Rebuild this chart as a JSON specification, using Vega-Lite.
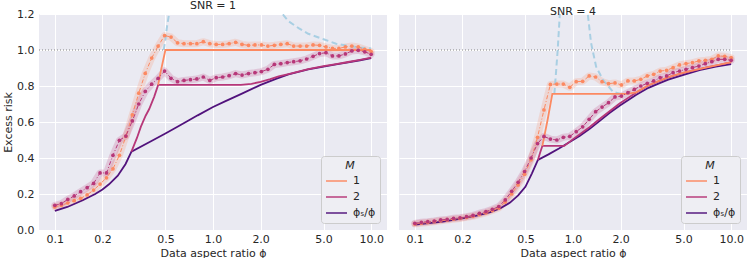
{
"$schema": "https://vega.github.io/schema/vega-lite/v6.json",
"padding": {"left": 2, "top": 0, "right": 0, "bottom": 0},
"config": {
 "font": "DejaVu Sans",
 "view": {"fill": "#eaeaf2", "stroke": null},
 "axis": {"domain": false, "ticks": false, "grid": true, "gridColor": "#ffffff", "gridWidth": 1, "labelFont": "DejaVu Sans", "labelFontSize": 11, "labelColor": "#262626", "titleFont": "DejaVu Sans", "titleFontSize": 11, "titleFontWeight": "normal", "titleColor": "#262626", "labelPadding": 3, "titlePadding": 3},
 "title": {"font": "DejaVu Sans", "fontSize": 11, "fontWeight": "normal", "color": "#262626", "offset": -3},
 "legend": {"orient": "bottom-right", "offset": 7, "fillColor": "#eeeef3", "strokeColor": "#cccccc", "cornerRadius": 3, "padding": 4, "titleFont": "DejaVu Sans", "titleFontStyle": "italic", "titleFontWeight": "normal", "titleFontSize": 11, "titleAnchor": "middle", "titlePadding": 4, "titleColor": "#262626", "labelFont": "DejaVu Sans", "labelFontSize": 11, "labelColor": "#262626", "labelOffset": 5, "symbolType": "stroke", "symbolSize": 441, "symbolStrokeWidth": 1.8, "symbolOpacity": 0.8, "clipHeight": 12, "rowPadding": 4}
},
"datasets": {
 "ref": [{"phi": 0.0794, "v": 1.0}, {"phi": 10, "v": 1.0}],
 "theory": [
  {"snr":1,"M":"ϕₛ/ϕ","phi":0.1,"v":0.106},{"snr":1,"M":"ϕₛ/ϕ","phi":0.12,"v":0.128},{"snr":1,"M":"ϕₛ/ϕ","phi":0.15,"v":0.165},{"snr":1,"M":"ϕₛ/ϕ","phi":0.18,"v":0.2},{"snr":1,"M":"ϕₛ/ϕ","phi":0.2,"v":0.225},{"snr":1,"M":"ϕₛ/ϕ","phi":0.22,"v":0.254},{"snr":1,"M":"ϕₛ/ϕ","phi":0.25,"v":0.302},{"snr":1,"M":"ϕₛ/ϕ","phi":0.28,"v":0.367},{"snr":1,"M":"ϕₛ/ϕ","phi":0.305,"v":0.435},{"snr":1,"M":"ϕₛ/ϕ","phi":0.4,"v":0.49},{"snr":1,"M":"ϕₛ/ϕ","phi":0.5,"v":0.536},{"snr":1,"M":"ϕₛ/ϕ","phi":0.6,"v":0.575},{"snr":1,"M":"ϕₛ/ϕ","phi":0.7,"v":0.608},{"snr":1,"M":"ϕₛ/ϕ","phi":0.8,"v":0.637},{"snr":1,"M":"ϕₛ/ϕ","phi":1.0,"v":0.683},{"snr":1,"M":"ϕₛ/ϕ","phi":1.2,"v":0.716},{"snr":1,"M":"ϕₛ/ϕ","phi":1.5,"v":0.755},{"snr":1,"M":"ϕₛ/ϕ","phi":2.0,"v":0.806},{"snr":1,"M":"ϕₛ/ϕ","phi":2.5,"v":0.84},{"snr":1,"M":"ϕₛ/ϕ","phi":3.0,"v":0.864},{"snr":1,"M":"ϕₛ/ϕ","phi":4.0,"v":0.892},{"snr":1,"M":"ϕₛ/ϕ","phi":5.0,"v":0.908},{"snr":1,"M":"ϕₛ/ϕ","phi":6.0,"v":0.92},{"snr":1,"M":"ϕₛ/ϕ","phi":7.0,"v":0.93},{"snr":1,"M":"ϕₛ/ϕ","phi":8.5,"v":0.943},{"snr":1,"M":"ϕₛ/ϕ","phi":10,"v":0.955},
  {"snr":1,"M":"2","phi":0.305,"v":0.435},{"snr":1,"M":"2","phi":0.33,"v":0.51},{"snr":1,"M":"2","phi":0.35,"v":0.574},{"snr":1,"M":"2","phi":0.375,"v":0.635},{"snr":1,"M":"2","phi":0.395,"v":0.672},{"snr":1,"M":"2","phi":0.425,"v":0.741},{"snr":1,"M":"2","phi":0.45,"v":0.806},{"snr":1,"M":"2","phi":1.5,"v":0.806},{"snr":1,"M":"2","phi":1.75,"v":0.812},{"snr":1,"M":"2","phi":2.0,"v":0.823},{"snr":1,"M":"2","phi":2.3,"v":0.838},{"snr":1,"M":"2","phi":2.6,"v":0.853},{"snr":1,"M":"2","phi":3.0,"v":0.866},{"snr":1,"M":"2","phi":4.0,"v":0.894},{"snr":1,"M":"2","phi":5.0,"v":0.91},{"snr":1,"M":"2","phi":6.0,"v":0.922},{"snr":1,"M":"2","phi":7.0,"v":0.932},{"snr":1,"M":"2","phi":8.5,"v":0.945},{"snr":1,"M":"2","phi":10,"v":0.957},
  {"snr":1,"M":"1","phi":0.45,"v":0.806},{"snr":1,"M":"1","phi":0.467,"v":0.88},{"snr":1,"M":"1","phi":0.5,"v":1.0},{"snr":1,"M":"1","phi":10,"v":1.0},
  {"snr":4,"M":"ϕₛ/ϕ","phi":0.1,"v":0.03},{"snr":4,"M":"ϕₛ/ϕ","phi":0.15,"v":0.047},{"snr":4,"M":"ϕₛ/ϕ","phi":0.2,"v":0.064},{"snr":4,"M":"ϕₛ/ϕ","phi":0.25,"v":0.081},{"snr":4,"M":"ϕₛ/ϕ","phi":0.3,"v":0.099},{"snr":4,"M":"ϕₛ/ϕ","phi":0.35,"v":0.122},{"snr":4,"M":"ϕₛ/ϕ","phi":0.4,"v":0.152},{"snr":4,"M":"ϕₛ/ϕ","phi":0.45,"v":0.192},{"snr":4,"M":"ϕₛ/ϕ","phi":0.5,"v":0.24},{"snr":4,"M":"ϕₛ/ϕ","phi":0.55,"v":0.315},{"snr":4,"M":"ϕₛ/ϕ","phi":0.6,"v":0.389},{"snr":4,"M":"ϕₛ/ϕ","phi":0.7,"v":0.42},{"snr":4,"M":"ϕₛ/ϕ","phi":0.82,"v":0.454},{"snr":4,"M":"ϕₛ/ϕ","phi":1.0,"v":0.5},{"snr":4,"M":"ϕₛ/ϕ","phi":1.1,"v":0.522},{"snr":4,"M":"ϕₛ/ϕ","phi":1.275,"v":0.562},{"snr":4,"M":"ϕₛ/ϕ","phi":1.47,"v":0.605},{"snr":4,"M":"ϕₛ/ϕ","phi":1.7,"v":0.65},{"snr":4,"M":"ϕₛ/ϕ","phi":1.97,"v":0.69},{"snr":4,"M":"ϕₛ/ϕ","phi":2.5,"v":0.75},{"snr":4,"M":"ϕₛ/ϕ","phi":3.0,"v":0.79},{"snr":4,"M":"ϕₛ/ϕ","phi":3.5,"v":0.815},{"snr":4,"M":"ϕₛ/ϕ","phi":4.0,"v":0.835},{"snr":4,"M":"ϕₛ/ϕ","phi":5.0,"v":0.862},{"snr":4,"M":"ϕₛ/ϕ","phi":6.3,"v":0.888},{"snr":4,"M":"ϕₛ/ϕ","phi":8.0,"v":0.908},{"snr":4,"M":"ϕₛ/ϕ","phi":10,"v":0.922},
  {"snr":4,"M":"2","phi":0.6,"v":0.389},{"snr":4,"M":"2","phi":0.62,"v":0.43},{"snr":4,"M":"2","phi":0.64,"v":0.467},{"snr":4,"M":"2","phi":0.88,"v":0.467},{"snr":4,"M":"2","phi":1.0,"v":0.505},{"snr":4,"M":"2","phi":1.275,"v":0.572},{"snr":4,"M":"2","phi":1.5,"v":0.622},{"snr":4,"M":"2","phi":1.97,"v":0.703},{"snr":4,"M":"2","phi":2.5,"v":0.763},{"snr":4,"M":"2","phi":3.0,"v":0.803},{"snr":4,"M":"2","phi":4.0,"v":0.848},{"snr":4,"M":"2","phi":5.0,"v":0.873},{"snr":4,"M":"2","phi":7.0,"v":0.903},{"snr":4,"M":"2","phi":10,"v":0.931},
  {"snr":4,"M":"1","phi":0.64,"v":0.467},{"snr":4,"M":"1","phi":0.69,"v":0.61},{"snr":4,"M":"1","phi":0.74,"v":0.756},{"snr":4,"M":"1","phi":2.2,"v":0.756},{"snr":4,"M":"1","phi":2.5,"v":0.765},{"snr":4,"M":"1","phi":3.0,"v":0.804},{"snr":4,"M":"1","phi":4.0,"v":0.849},{"snr":4,"M":"1","phi":5.0,"v":0.874},{"snr":4,"M":"1","phi":7.0,"v":0.904},{"snr":4,"M":"1","phi":10,"v":0.932}
 ],
 "asym": [
  {"snr":1,"b":"a","phi":0.488,"v":1.0},{"snr":1,"b":"a","phi":0.5,"v":1.06},{"snr":1,"b":"a","phi":0.51,"v":1.12},{"snr":1,"b":"a","phi":0.527,"v":1.2},{"snr":1,"b":"a","phi":0.545,"v":1.3},
  {"snr":1,"b":"b","phi":2.6,"v":1.3},{"snr":1,"b":"b","phi":2.75,"v":1.2},{"snr":1,"b":"b","phi":3.0,"v":1.16},{"snr":1,"b":"b","phi":3.5,"v":1.12},{"snr":1,"b":"b","phi":4.0,"v":1.09},{"snr":1,"b":"b","phi":5.0,"v":1.06},{"snr":1,"b":"b","phi":6.0,"v":1.035},{"snr":1,"b":"b","phi":7.0,"v":1.025},{"snr":1,"b":"b","phi":8.5,"v":1.014},{"snr":1,"b":"b","phi":10,"v":1.008},
  {"snr":4,"b":"a","phi":0.762,"v":0.756},{"snr":4,"b":"a","phi":0.78,"v":0.87},{"snr":4,"b":"a","phi":0.8,"v":1.0},{"snr":4,"b":"a","phi":0.824,"v":1.19},{"snr":4,"b":"a","phi":0.835,"v":1.3},
  {"snr":4,"b":"b","phi":1.21,"v":1.3},{"snr":4,"b":"b","phi":1.24,"v":1.2},{"snr":4,"b":"b","phi":1.3,"v":1.04},{"snr":4,"b":"b","phi":1.4,"v":0.907},{"snr":4,"b":"b","phi":1.55,"v":0.833},{"snr":4,"b":"b","phi":1.79,"v":0.768},{"snr":4,"b":"b","phi":2.0,"v":0.756}
 ],
 "emp": [
  {"snr":1,"M":"1","phi":0.1,"v":0.128},{"snr":1,"M":"1","phi":0.1099,"v":0.137},{"snr":1,"M":"1","phi":0.1207,"v":0.15},{"snr":1,"M":"1","phi":0.1326,"v":0.163},{"snr":1,"M":"1","phi":0.1456,"v":0.176},{"snr":1,"M":"1","phi":0.16,"v":0.195},{"snr":1,"M":"1","phi":0.1758,"v":0.222},{"snr":1,"M":"1","phi":0.1931,"v":0.255},{"snr":1,"M":"1","phi":0.2121,"v":0.29},{"snr":1,"M":"1","phi":0.233,"v":0.34},{"snr":1,"M":"1","phi":0.256,"v":0.415},{"snr":1,"M":"1","phi":0.2812,"v":0.52},{"snr":1,"M":"1","phi":0.3089,"v":0.64},{"snr":1,"M":"1","phi":0.3393,"v":0.76},{"snr":1,"M":"1","phi":0.3728,"v":0.87},{"snr":1,"M":"1","phi":0.4095,"v":0.955},{"snr":1,"M":"1","phi":0.4498,"v":1.022},{"snr":1,"M":"1","phi":0.4942,"v":1.08},{"snr":1,"M":"1","phi":0.5429,"v":1.072},{"snr":1,"M":"1","phi":0.5964,"v":1.04},{"snr":1,"M":"1","phi":0.6551,"v":1.035},{"snr":1,"M":"1","phi":0.7197,"v":1.035},{"snr":1,"M":"1","phi":0.7906,"v":1.035},{"snr":1,"M":"1","phi":0.8685,"v":1.046},{"snr":1,"M":"1","phi":0.9541,"v":1.035},{"snr":1,"M":"1","phi":1.048,"v":1.031},{"snr":1,"M":"1","phi":1.151,"v":1.031},{"snr":1,"M":"1","phi":1.265,"v":1.035},{"snr":1,"M":"1","phi":1.39,"v":1.043},{"snr":1,"M":"1","phi":1.526,"v":1.031},{"snr":1,"M":"1","phi":1.677,"v":1.026},{"snr":1,"M":"1","phi":1.842,"v":1.028},{"snr":1,"M":"1","phi":2.024,"v":1.028},{"snr":1,"M":"1","phi":2.223,"v":1.022},{"snr":1,"M":"1","phi":2.442,"v":1.026},{"snr":1,"M":"1","phi":2.683,"v":1.031},{"snr":1,"M":"1","phi":2.947,"v":1.035},{"snr":1,"M":"1","phi":3.237,"v":1.022},{"snr":1,"M":"1","phi":3.556,"v":1.022},{"snr":1,"M":"1","phi":3.907,"v":1.022},{"snr":1,"M":"1","phi":4.292,"v":1.028},{"snr":1,"M":"1","phi":4.715,"v":1.026},{"snr":1,"M":"1","phi":5.179,"v":1.017},{"snr":1,"M":"1","phi":5.69,"v":1.009},{"snr":1,"M":"1","phi":6.251,"v":1.009},{"snr":1,"M":"1","phi":6.866,"v":1.017},{"snr":1,"M":"1","phi":7.543,"v":1.022},{"snr":1,"M":"1","phi":8.286,"v":1.017},{"snr":1,"M":"1","phi":9.103,"v":1.004},{"snr":1,"M":"1","phi":10,"v":0.991},
  {"snr":1,"M":"2","phi":0.1,"v":0.137},{"snr":1,"M":"2","phi":0.1099,"v":0.146},{"snr":1,"M":"2","phi":0.1207,"v":0.17},{"snr":1,"M":"2","phi":0.1326,"v":0.189},{"snr":1,"M":"2","phi":0.1456,"v":0.213},{"snr":1,"M":"2","phi":0.16,"v":0.235},{"snr":1,"M":"2","phi":0.1758,"v":0.259},{"snr":1,"M":"2","phi":0.1931,"v":0.317},{"snr":1,"M":"2","phi":0.2121,"v":0.317},{"snr":1,"M":"2","phi":0.233,"v":0.415},{"snr":1,"M":"2","phi":0.256,"v":0.498},{"snr":1,"M":"2","phi":0.2812,"v":0.522},{"snr":1,"M":"2","phi":0.3089,"v":0.606},{"snr":1,"M":"2","phi":0.3393,"v":0.7},{"snr":1,"M":"2","phi":0.3728,"v":0.77},{"snr":1,"M":"2","phi":0.4095,"v":0.81},{"snr":1,"M":"2","phi":0.4498,"v":0.843},{"snr":1,"M":"2","phi":0.4942,"v":0.883},{"snr":1,"M":"2","phi":0.5429,"v":0.843},{"snr":1,"M":"2","phi":0.5964,"v":0.824},{"snr":1,"M":"2","phi":0.6551,"v":0.831},{"snr":1,"M":"2","phi":0.7197,"v":0.835},{"snr":1,"M":"2","phi":0.7906,"v":0.839},{"snr":1,"M":"2","phi":0.8685,"v":0.85},{"snr":1,"M":"2","phi":0.9541,"v":0.831},{"snr":1,"M":"2","phi":1.048,"v":0.846},{"snr":1,"M":"2","phi":1.151,"v":0.85},{"snr":1,"M":"2","phi":1.265,"v":0.857},{"snr":1,"M":"2","phi":1.39,"v":0.869},{"snr":1,"M":"2","phi":1.526,"v":0.861},{"snr":1,"M":"2","phi":1.677,"v":0.869},{"snr":1,"M":"2","phi":1.842,"v":0.874},{"snr":1,"M":"2","phi":2.024,"v":0.88},{"snr":1,"M":"2","phi":2.223,"v":0.893},{"snr":1,"M":"2","phi":2.442,"v":0.92},{"snr":1,"M":"2","phi":2.683,"v":0.924},{"snr":1,"M":"2","phi":2.947,"v":0.93},{"snr":1,"M":"2","phi":3.237,"v":0.935},{"snr":1,"M":"2","phi":3.556,"v":0.94},{"snr":1,"M":"2","phi":3.907,"v":0.95},{"snr":1,"M":"2","phi":4.292,"v":0.965},{"snr":1,"M":"2","phi":4.715,"v":0.98},{"snr":1,"M":"2","phi":5.179,"v":0.985},{"snr":1,"M":"2","phi":5.69,"v":0.967},{"snr":1,"M":"2","phi":6.251,"v":0.967},{"snr":1,"M":"2","phi":6.866,"v":0.978},{"snr":1,"M":"2","phi":7.543,"v":0.995},{"snr":1,"M":"2","phi":8.286,"v":0.998},{"snr":1,"M":"2","phi":9.103,"v":0.99},{"snr":1,"M":"2","phi":10,"v":0.976},
  {"snr":4,"M":"1","phi":0.1,"v":0.033},{"snr":4,"M":"1","phi":0.1099,"v":0.038},{"snr":4,"M":"1","phi":0.1207,"v":0.042},{"snr":4,"M":"1","phi":0.1326,"v":0.046},{"snr":4,"M":"1","phi":0.1456,"v":0.051},{"snr":4,"M":"1","phi":0.16,"v":0.055},{"snr":4,"M":"1","phi":0.1758,"v":0.06},{"snr":4,"M":"1","phi":0.1931,"v":0.064},{"snr":4,"M":"1","phi":0.2121,"v":0.07},{"snr":4,"M":"1","phi":0.233,"v":0.076},{"snr":4,"M":"1","phi":0.256,"v":0.086},{"snr":4,"M":"1","phi":0.2812,"v":0.095},{"snr":4,"M":"1","phi":0.3089,"v":0.108},{"snr":4,"M":"1","phi":0.3393,"v":0.122},{"snr":4,"M":"1","phi":0.3728,"v":0.155},{"snr":4,"M":"1","phi":0.4095,"v":0.2},{"snr":4,"M":"1","phi":0.4498,"v":0.25},{"snr":4,"M":"1","phi":0.4942,"v":0.31},{"snr":4,"M":"1","phi":0.5429,"v":0.39},{"snr":4,"M":"1","phi":0.5964,"v":0.515},{"snr":4,"M":"1","phi":0.6551,"v":0.667},{"snr":4,"M":"1","phi":0.7197,"v":0.809},{"snr":4,"M":"1","phi":0.7906,"v":0.811},{"snr":4,"M":"1","phi":0.8685,"v":0.811},{"snr":4,"M":"1","phi":0.9541,"v":0.793},{"snr":4,"M":"1","phi":1.048,"v":0.824},{"snr":4,"M":"1","phi":1.151,"v":0.826},{"snr":4,"M":"1","phi":1.265,"v":0.856},{"snr":4,"M":"1","phi":1.39,"v":0.85},{"snr":4,"M":"1","phi":1.526,"v":0.824},{"snr":4,"M":"1","phi":1.677,"v":0.813},{"snr":4,"M":"1","phi":1.842,"v":0.817},{"snr":4,"M":"1","phi":2.024,"v":0.806},{"snr":4,"M":"1","phi":2.223,"v":0.828},{"snr":4,"M":"1","phi":2.442,"v":0.828},{"snr":4,"M":"1","phi":2.683,"v":0.837},{"snr":4,"M":"1","phi":2.947,"v":0.856},{"snr":4,"M":"1","phi":3.237,"v":0.865},{"snr":4,"M":"1","phi":3.556,"v":0.883},{"snr":4,"M":"1","phi":3.907,"v":0.887},{"snr":4,"M":"1","phi":4.292,"v":0.902},{"snr":4,"M":"1","phi":4.715,"v":0.917},{"snr":4,"M":"1","phi":5.179,"v":0.924},{"snr":4,"M":"1","phi":5.69,"v":0.93},{"snr":4,"M":"1","phi":6.251,"v":0.939},{"snr":4,"M":"1","phi":6.866,"v":0.943},{"snr":4,"M":"1","phi":7.543,"v":0.948},{"snr":4,"M":"1","phi":8.286,"v":0.967},{"snr":4,"M":"1","phi":9.103,"v":0.965},{"snr":4,"M":"1","phi":10,"v":0.957},
  {"snr":4,"M":"2","phi":0.1,"v":0.037},{"snr":4,"M":"2","phi":0.1099,"v":0.043},{"snr":4,"M":"2","phi":0.1207,"v":0.046},{"snr":4,"M":"2","phi":0.1326,"v":0.05},{"snr":4,"M":"2","phi":0.1456,"v":0.056},{"snr":4,"M":"2","phi":0.16,"v":0.059},{"snr":4,"M":"2","phi":0.1758,"v":0.065},{"snr":4,"M":"2","phi":0.1931,"v":0.068},{"snr":4,"M":"2","phi":0.2121,"v":0.074},{"snr":4,"M":"2","phi":0.233,"v":0.081},{"snr":4,"M":"2","phi":0.256,"v":0.093},{"snr":4,"M":"2","phi":0.2812,"v":0.102},{"snr":4,"M":"2","phi":0.3089,"v":0.115},{"snr":4,"M":"2","phi":0.3393,"v":0.13},{"snr":4,"M":"2","phi":0.3728,"v":0.167},{"snr":4,"M":"2","phi":0.4095,"v":0.215},{"snr":4,"M":"2","phi":0.4498,"v":0.265},{"snr":4,"M":"2","phi":0.4942,"v":0.325},{"snr":4,"M":"2","phi":0.5429,"v":0.4},{"snr":4,"M":"2","phi":0.5964,"v":0.48},{"snr":4,"M":"2","phi":0.6551,"v":0.52},{"snr":4,"M":"2","phi":0.7197,"v":0.505},{"snr":4,"M":"2","phi":0.7906,"v":0.5},{"snr":4,"M":"2","phi":0.8685,"v":0.515},{"snr":4,"M":"2","phi":0.9541,"v":0.52},{"snr":4,"M":"2","phi":1.048,"v":0.546},{"snr":4,"M":"2","phi":1.151,"v":0.573},{"snr":4,"M":"2","phi":1.265,"v":0.615},{"snr":4,"M":"2","phi":1.39,"v":0.657},{"snr":4,"M":"2","phi":1.526,"v":0.683},{"snr":4,"M":"2","phi":1.677,"v":0.707},{"snr":4,"M":"2","phi":1.842,"v":0.739},{"snr":4,"M":"2","phi":2.024,"v":0.744},{"snr":4,"M":"2","phi":2.223,"v":0.763},{"snr":4,"M":"2","phi":2.442,"v":0.781},{"snr":4,"M":"2","phi":2.683,"v":0.8},{"snr":4,"M":"2","phi":2.947,"v":0.815},{"snr":4,"M":"2","phi":3.237,"v":0.828},{"snr":4,"M":"2","phi":3.556,"v":0.846},{"snr":4,"M":"2","phi":3.907,"v":0.856},{"snr":4,"M":"2","phi":4.292,"v":0.874},{"snr":4,"M":"2","phi":4.715,"v":0.883},{"snr":4,"M":"2","phi":5.179,"v":0.893},{"snr":4,"M":"2","phi":5.69,"v":0.902},{"snr":4,"M":"2","phi":6.251,"v":0.911},{"snr":4,"M":"2","phi":6.866,"v":0.924},{"snr":4,"M":"2","phi":7.543,"v":0.935},{"snr":4,"M":"2","phi":8.286,"v":0.948},{"snr":4,"M":"2","phi":9.103,"v":0.948},{"snr":4,"M":"2","phi":10,"v":0.943}
 ]
},
"spacing": 10,
"resolve": {"scale": {"color": "independent"}},
"hconcat": [
 {
  "width": 348, "height": 216,
  "title": "SNR = 1",
  "encoding": {
   "x": {"field": "phi", "type": "quantitative", "scale": {"type": "log", "domain": [0.0794, 12.59], "nice": false}, "axis": {"values": [0.1, 0.2, 0.5, 1, 2, 5, 10], "format": ".1f", "title": "Data aspect ratio ϕ"}},
   "y": {"field": "v", "type": "quantitative", "scale": {"domain": [0, 1.2], "nice": false, "zero": false}, "axis": {"values": [0, 0.2, 0.4, 0.6, 0.8, 1.0, 1.2], "format": ".1f", "title": "Excess risk", "labelPadding": 5}}
  },
  "layer": [
   {"data": {"name": "emp"}, "transform": [{"filter": "datum.snr == 1"}], "mark": {"type": "line", "strokeWidth": 7, "opacity": 0.2, "strokeCap": "round", "strokeJoin": "round", "clip": true}, "encoding": {"stroke": {"field": "M", "type": "nominal", "scale": {"domain": ["1", "2"], "range": ["#fc8961", "#b73779"]}, "legend": null}}},
   {"data": {"name": "ref"}, "mark": {"type": "line", "color": "#808080", "strokeWidth": 1, "strokeDash": [1, 2]}, "encoding": {}},
   {"data": {"name": "asym"}, "transform": [{"filter": "datum.snr == 1"}], "mark": {"type": "line", "clip": true, "color": "#a9cfe3", "strokeWidth": 2, "strokeDash": [6, 3.5]}, "encoding": {"detail": {"field": "b"}}},
   {"data": {"name": "theory"}, "transform": [{"filter": "datum.snr == 1"}], "mark": {"type": "line", "strokeWidth": 1.8}, "encoding": {"color": {"field": "M", "type": "nominal", "scale": {"domain": ["1", "2", "ϕₛ/ϕ"], "range": ["#fc8961", "#b73779", "#51127c"]}, "legend": {"title": "M"}}}},
   {"data": {"name": "emp"}, "transform": [{"filter": "datum.snr == 1"}], "mark": {"type": "line", "strokeWidth": 1, "strokeDash": [4, 2, 1, 2]}, "encoding": {"stroke": {"field": "M", "type": "nominal", "scale": {"domain": ["1", "2"], "range": ["#fc8961", "#b73779"]}, "legend": null}}},
   {"data": {"name": "emp"}, "transform": [{"filter": "datum.snr == 1"}], "mark": {"type": "point", "filled": true, "size": 14, "opacity": 1}, "encoding": {"fill": {"field": "M", "type": "nominal", "scale": {"domain": ["1", "2"], "range": ["#fc8961", "#b73779"]}, "legend": null}}}
  ]
 },
 {
  "width": 348, "height": 216,
  "title": "SNR = 4",
  "encoding": {
   "x": {"field": "phi", "type": "quantitative", "scale": {"type": "log", "domain": [0.0794, 12.59], "nice": false}, "axis": {"values": [0.1, 0.2, 0.5, 1, 2, 5, 10], "format": ".1f", "title": "Data aspect ratio ϕ"}},
   "y": {"field": "v", "type": "quantitative", "scale": {"domain": [0, 1.2], "nice": false, "zero": false}, "axis": {"values": [0, 0.2, 0.4, 0.6, 0.8, 1.0, 1.2], "labels": false, "title": null, "labelPadding": 0}}
  },
  "layer": [
   {"data": {"name": "emp"}, "transform": [{"filter": "datum.snr == 4"}], "mark": {"type": "line", "strokeWidth": 7, "opacity": 0.2, "strokeCap": "round", "strokeJoin": "round", "clip": true}, "encoding": {"stroke": {"field": "M", "type": "nominal", "scale": {"domain": ["1", "2"], "range": ["#fc8961", "#b73779"]}, "legend": null}}},
   {"data": {"name": "ref"}, "mark": {"type": "line", "color": "#808080", "strokeWidth": 1, "strokeDash": [1, 2]}, "encoding": {}},
   {"data": {"name": "asym"}, "transform": [{"filter": "datum.snr == 4"}], "mark": {"type": "line", "clip": true, "color": "#a9cfe3", "strokeWidth": 2, "strokeDash": [6, 3.5]}, "encoding": {"detail": {"field": "b"}}},
   {"data": {"name": "theory"}, "transform": [{"filter": "datum.snr == 4"}], "mark": {"type": "line", "strokeWidth": 1.8}, "encoding": {"color": {"field": "M", "type": "nominal", "scale": {"domain": ["1", "2", "ϕₛ/ϕ"], "range": ["#fc8961", "#b73779", "#51127c"]}, "legend": {"title": "M"}}}},
   {"data": {"name": "emp"}, "transform": [{"filter": "datum.snr == 4"}], "mark": {"type": "line", "strokeWidth": 1, "strokeDash": [4, 2, 1, 2]}, "encoding": {"stroke": {"field": "M", "type": "nominal", "scale": {"domain": ["1", "2"], "range": ["#fc8961", "#b73779"]}, "legend": null}}},
   {"data": {"name": "emp"}, "transform": [{"filter": "datum.snr == 4"}], "mark": {"type": "point", "filled": true, "size": 14, "opacity": 1}, "encoding": {"fill": {"field": "M", "type": "nominal", "scale": {"domain": ["1", "2"], "range": ["#fc8961", "#b73779"]}, "legend": null}}}
  ]
 }
]
}
